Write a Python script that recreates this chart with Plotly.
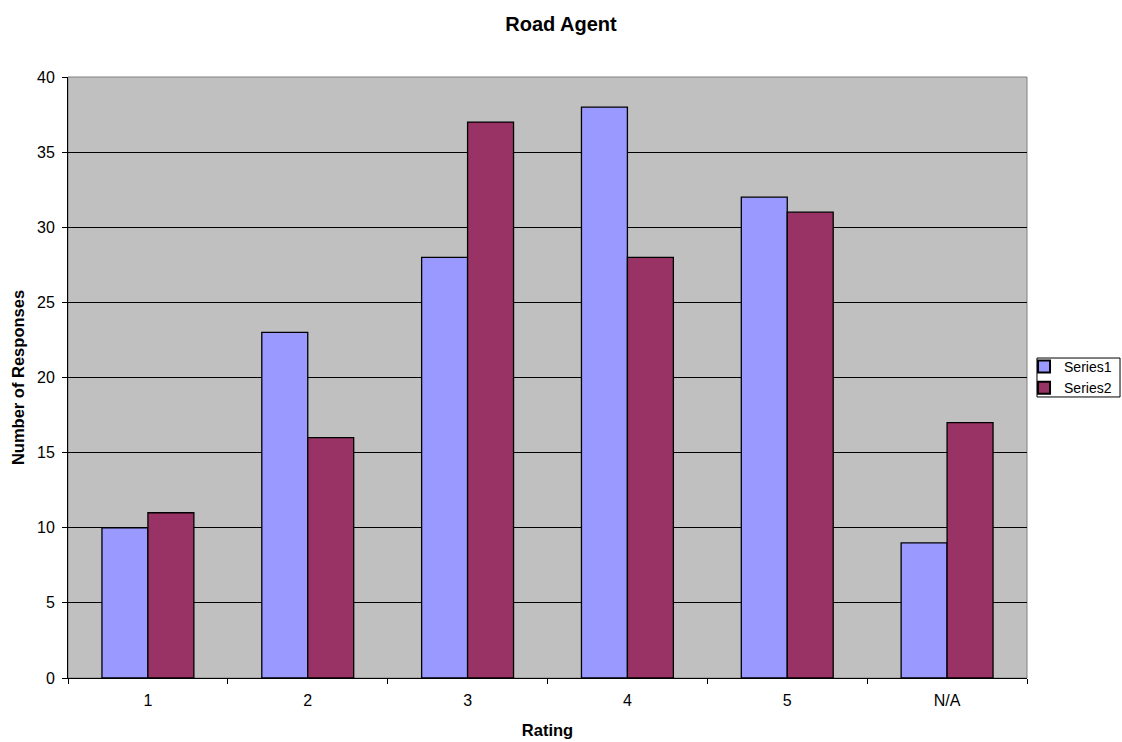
import plotly.graph_objects as go

categories = ["1", "2", "3", "4", "5", "N/A"]
series1 = [10, 23, 28, 38, 32, 9]
series2 = [11, 16, 37, 28, 31, 17]
y_ticks = [0, 5, 10, 15, 20, 25, 30, 35, 40]

FONT = "Liberation Sans, Arial, sans-serif"

fig = go.Figure()
fig.add_trace(go.Bar(x=categories, y=series1, name="Series1",
                     marker=dict(color="#9999FF", line=dict(color="#000000", width=1.3))))
fig.add_trace(go.Bar(x=categories, y=series2, name="Series2",
                     marker=dict(color="#993366", line=dict(color="#000000", width=1.3))))

fig.update_layout(
    width=1122, height=742,
    margin=dict(l=68, r=95, t=77, b=64, autoexpand=False),
    paper_bgcolor="white", plot_bgcolor="#C0C0C0",
    barmode="group", bargap=0.425, bargroupgap=0,
    font=dict(family=FONT, size=16, color="#000000"),
    title=dict(text="<b>Road Agent</b>", x=0.5, xref="container", xanchor="center",
               y=0.968, yref="container", yanchor="middle",
               font=dict(family=FONT, size=20)),
    showlegend=True,
    legend=dict(x=0.9969, xanchor="left", y=0.5, yanchor="middle",
                borderwidth=0, bgcolor="rgba(0,0,0,0)",
                font=dict(family=FONT, size=14), itemsizing="constant",
                tracegroupgap=0),
    xaxis=dict(type="category", showgrid=False, showline=True, linecolor="#000000", linewidth=1,
               ticks="outside", tickson="boundaries", ticklen=5, tickcolor="#000000",
               ticklabelstandoff=8,
               title=dict(text="<b>Rating</b>", font=dict(family=FONT, size=16.5), standoff=16),
               tickfont=dict(family=FONT, size=16)),
    yaxis=dict(range=[0, 40], tickvals=y_ticks, showgrid=True, gridcolor="#000000", gridwidth=1,
               showline=True, linecolor="#000000", linewidth=1, zeroline=False,
               ticks="outside", ticklen=5, tickcolor="#000000",
               ticklabelstandoff=4,
               title=dict(text="<b>Number of Responses</b>", font=dict(family=FONT, size=16.5), standoff=8),
               tickfont=dict(family=FONT, size=16)),
)
# plot-area border
fig.add_shape(type="rect", xref="paper", yref="paper", x0=0, y0=0, x1=1, y1=1,
              line=dict(color="#808080", width=1), layer="below")
# legend frame
fig.add_shape(type="rect", xref="paper", yref="paper", x0=1.0104, x1=1.0970, y0=0.4676, y1=0.5324,
              line=dict(color="#000000", width=1), fillcolor="white", layer="below")

fig.write_html("out.html", config={"displayModeBar": False},
               post_script="document.body.style.margin='0';")
